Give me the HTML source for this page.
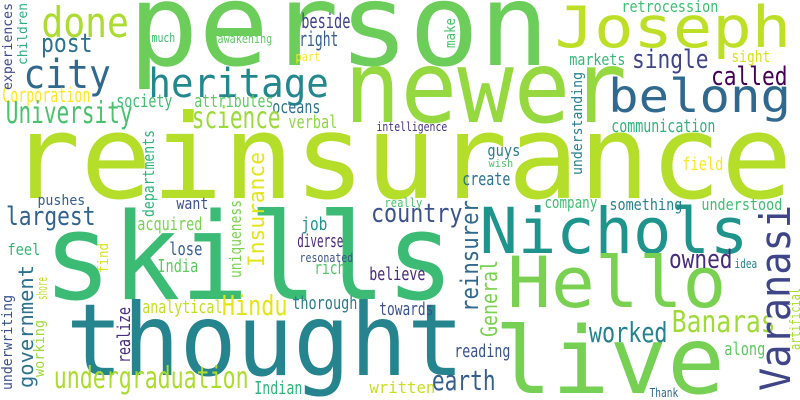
<!DOCTYPE html>
<html>
<head>
<meta charset="utf-8">
<style>
html,body{margin:0;padding:0;background:#fff;}
svg{display:block;}
text{font-family:"DejaVu Sans Mono","Liberation Mono",monospace;}
</style>
</head>
<body>
<svg id="cloud" width="800" height="400" viewBox="0 0 800 400" xmlns="http://www.w3.org/2000/svg">
<rect width="800" height="400" fill="#ffffff"/>
</svg>
<script>
// horizontal words: [word, left, right, baseline, fontSize, color]
const hWords = [
["person",133,547,65,114,"#6ccd5a"],
["reinsurance",14,790,198,117,"#b5de2b"],
["newer",348,625,122,100,"#95d840"],
["skills",48,452,299,120,"#3cbb75"],
["thought",70,462,375,100,"#25848e"],
["Joseph",557,790,47,57,"#bddf26"],
["Nichols",482,747,253,63,"#1f948c"],
["Hello",510,725,307,70,"#7ad151"],
["live",498,723,393,93,"#75d054"],
["belong",610,790,112,46,"#31688e"],
["city",25,110,88,40,"#31688e"],
["heritage",150,328,97,40,"#23888e"],
["done",43,128,37,42,"#addc30"],
["post",42,92,52,26,"#2c728e"],
["beside",302,350,28,20,"#414487"],
["right",300,338,46,20,"#355f8d"],
["much",152,175,42,12,"#3fbc73"],
["awakening",218,272,43,12,"#5ec962"],
["part",296,320,61,12,"#fde725"],
["Corporation",3,90,102,20,"#fde725"],
["University",7,132,123,30,"#4ac16d"],
["society",117,172,107,18,"#3dbc74"],
["attributes",195,273,107,18,"#5ec962"],
["oceans",273,320,113,18,"#2c728e"],
["science",193,280,128,30,"#9bd93c"],
["verbal",289,337,128,18,"#90d743"],
["intelligence",377,447,131,12,"#46327e"],
["retrocession",622,718,12,16,"#3fbc73"],
["markets",570,625,65,16,"#35b779"],
["single",633,708,68,26,"#414487"],
["sight",732,770,62,16,"#d8e219"],
["called",712,787,85,26,"#440154"],
["communication",612,715,132,18,"#2fb47c"],
["guys",488,520,156,16,"#287c8e"],
["wish",489,513,167,11,"#52c569"],
["field",683,723,170,18,"#fde725"],
["create",463,510,185,18,"#2c728e"],
["pushes",38,85,205,14,"#355f8d"],
["largest",7,95,225,26,"#33638d"],
["want",177,208,209,16,"#3b528b"],
["country",372,462,222,26,"#3b528b"],
["acquired",138,202,230,18,"#7ad151"],
["job",302,327,230,18,"#21918c"],
["feel",8,40,255,16,"#35b779"],
["diverse",298,343,247,18,"#482878"],
["lose",170,202,255,18,"#355f8d"],
["India",158,198,272,18,"#5ec962"],
["rich",315,345,274,18,"#52c569"],
["believe",370,425,280,18,"#482878"],
["analytical",143,222,313,18,"#c2df23"],
["Hindu",223,287,315,28,"#e5e419"],
["thorough",293,357,309,18,"#287c8e"],
["resonated",300,353,262,12,"#3b528b"],
["really",385,422,207,12,"#4ac16d"],
["towards",380,433,315,18,"#3b528b"],
["undergraduation",55,248,388,30,"#addc30"],
["Indian",255,302,394,18,"#2fb47c"],
["written",370,435,393,16,"#c8e020"],
["company",545,597,208,16,"#3fbc73"],
["something",610,682,210,16,"#26828e"],
["understood",702,782,210,16,"#3fbc73"],
["owned",670,732,268,26,"#472c7a"],
["idea",735,757,268,12,"#26828e"],
["Banaras",673,775,332,30,"#a0da39"],
["worked",590,667,342,28,"#26828e"],
["along",725,765,355,18,"#5ec962"],
["reading",455,510,357,18,"#3b528b"],
["earth",433,495,390,28,"#355f8d"],
["Thank",650,678,397,12,"#31688e"]
];
// vertical words (read bottom to top): [word, baselineX, bottomY, length, fontSize, color]
const vWords = [
["experiences",12,90,87,13,"#3e4a89"],
["children",27,65,62,13,"#29af7f"],
["departments",154,217,87,16,"#2fb47c"],
["Insurance",264,267,115,22,"#e5e419"],
["make",455,48,30,14,"#4ac16d"],
["understanding",582,175,103,14,"#26828e"],
["uniqueness",241,278,78,16,"#7ad151"],
["find",108,273,30,14,"#d8e219"],
["government",33,388,123,20,"#2c728e"],
["shore",47,300,23,14,"#c2df23"],
["underwriting",12,390,95,14,"#3b528b"],
["working",44,377,57,14,"#a0da39"],
["realize",130,363,56,18,"#472d7b"],
["Varanasi",790,391,186,42,"#404588"],
["reinsurer",478,312,112,24,"#31688e"],
["General",497,337,77,22,"#7ad151"],
["artificial",800,350,62,14,"#a8db34"]
];
const NS = "http://www.w3.org/2000/svg";
const svg = document.getElementById("cloud");
hWords.forEach(function(w){
  const t = document.createElementNS(NS, "text");
  
  
  t.setAttribute("x", w[1] - w[4]*0.04);
  t.setAttribute("y", w[3]);
  t.setAttribute("font-size", w[4]);
  t.setAttribute("fill", w[5]);
  t.setAttribute("textLength", (w[2] - w[1]) + w[4]*0.06);
  t.setAttribute("lengthAdjust", "spacingAndGlyphs");
  t.textContent = w[0];
  svg.appendChild(t);
});
vWords.forEach(function(w){
  const t = document.createElementNS(NS, "text");
  
  
  t.setAttribute("x", 0);
  t.setAttribute("y", 0);
  t.setAttribute("transform", "translate(" + w[1] + "," + w[2] + ") rotate(-90)");
  t.setAttribute("font-size", w[4]);
  t.setAttribute("fill", w[5]);
  t.setAttribute("textLength", w[3]);
  t.setAttribute("lengthAdjust", "spacingAndGlyphs");
  t.textContent = w[0];
  svg.appendChild(t);
});
</script>
</body>
</html>
